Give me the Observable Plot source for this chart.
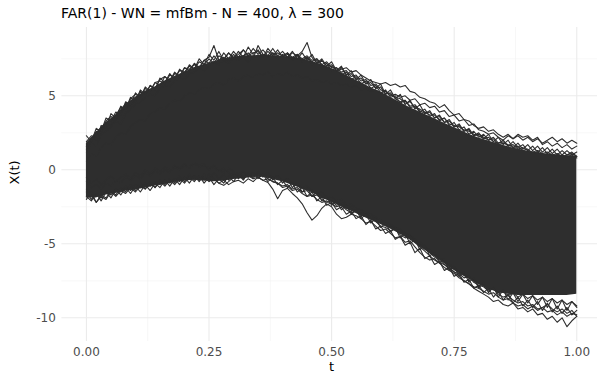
<!DOCTYPE html>
<html>
<head>
<meta charset="utf-8">
<script src="https://cdn.jsdelivr.net/npm/d3@7"></script>
<script src="https://cdn.jsdelivr.net/npm/@observablehq/plot@0.6"></script>
<style>
  body { margin: 0; background: #fff; width: 597px; height: 375px; overflow: hidden; }
  #title { font-family: "DejaVu Sans", sans-serif; font-size: 14px; color: #000; height: 22px; line-height: 22px; padding: 2px 0 0 61px; white-space: nowrap; }
  svg { display: block; }
</style>
</head>
<body>
<div id="title">FAR(1) - WN = mfBm - N = 400, λ = 300</div>
<div id="chart"></div>
<script>
// ---- data ----
const title = "FAR(1) - WN = mfBm - N = 400, λ = 300";
const xTicks = [0, 0.25, 0.5, 0.75, 1];
const xMinor = [0.125, 0.375, 0.625, 0.875];
const yTicks = [-10, -5, 0, 5];
const yMinor = [-7.5, -2.5, 2.5, 7.5];

// dense band (most of the 400 curves), sampled every 0.02
const bandT = d3.range(0, 51).map(i => i / 50);
const bandHigh = [1.8, 2.5, 3.2, 3.7, 4.4, 4.9, 5.3, 5.6, 6.0, 6.3, 6.6, 6.9, 7.1, 7.3, 7.5, 7.6, 7.7, 7.7, 7.75, 7.7, 7.65, 7.6, 7.5, 7.3, 7.1, 6.85, 6.55, 6.2, 5.9, 5.55, 5.25, 4.9, 4.55, 4.2, 3.9, 3.6, 3.3, 3.0, 2.7, 2.4, 2.15, 1.95, 1.75, 1.55, 1.4, 1.25, 1.15, 1.05, 1.0, 0.95, 0.9];
const bandLow = [-1.9, -1.9, -1.7, -1.6, -1.45, -1.35, -1.25, -1.1, -1.0, -0.85, -0.75, -0.7, -0.75, -0.8, -0.75, -0.65, -0.6, -0.5, -0.5, -0.65, -0.8, -1.05, -1.3, -1.55, -1.9, -2.2, -2.5, -2.8, -3.1, -3.4, -3.7, -4.0, -4.35, -4.75, -5.2, -5.65, -6.1, -6.6, -7.0, -7.4, -7.75, -8.05, -8.3, -8.4, -8.5, -8.5, -8.5, -8.5, -8.5, -8.5, -8.4];

// individual edge / outlier curves, sampled every 0.01
const curveT = d3.range(0, 101).map(i => i / 100);
const upA = [1.9, 2.3, 2.2, 2.9, 3.1, 3.0, 3.7, 4.2, 4.0, 4.8, 5.1,
  4.9, 5.5, 5.3, 5.9, 6.0, 5.8, 6.4, 6.2, 6.7, 6.6,
  7.0, 6.8, 7.3, 7.1, 7.5, 7.2, 7.7, 7.5, 7.9, 7.6,
  7.8, 8.1, 7.7, 7.9, 8.0, 7.6, 8.2, 7.8, 7.9, 7.7,
  7.9, 7.6, 7.8, 7.5, 7.7, 7.4, 7.5, 7.1, 7.3, 6.9,
  6.9, 6.6, 6.7, 6.3, 6.4, 6.0, 6.1, 5.7, 5.8, 5.4,
  5.3, 5.1, 4.9, 4.8, 4.5, 4.6, 4.2, 4.1, 3.9, 3.7,
  3.7, 3.4, 3.5, 3.1, 3.0, 2.9, 2.7, 2.6, 2.4, 2.3,
  2.1, 2.2, 1.9, 1.8, 1.9, 1.6, 1.7, 1.4, 1.5, 1.3,
  1.2, 1.3, 1.1, 1.2, 1.0, 1.1, 0.9, 1.0, 1.1, 0.9];
const upB = [1.6, 2.0, 2.6, 2.5, 3.3, 3.6, 3.4, 4.0, 4.5, 4.3, 4.7,
  5.3, 5.1, 5.7, 5.5, 6.1, 6.3, 6.0, 6.5, 6.3, 6.9,
  6.8, 7.1, 6.9, 7.4, 7.6, 8.4, 7.4, 7.6, 7.3, 7.8,
  7.5, 7.7, 7.9, 7.5, 8.4, 7.8, 7.6, 7.9, 7.5, 7.8,
  7.6, 7.9, 7.7, 8.0, 8.6, 7.6, 7.2, 7.4, 7.0, 7.1,
  6.7, 6.9, 6.4, 6.5, 6.1, 6.2, 5.8, 5.9, 5.5, 5.6,
  5.1, 5.2, 4.8, 4.6, 4.7, 4.3, 4.4, 4.0, 3.8, 3.9,
  3.5, 3.6, 3.2, 3.3, 2.9, 3.0, 2.6, 2.7, 2.3, 2.4,
  2.2, 2.0, 2.1, 1.7, 1.8, 1.7, 1.5, 1.6, 1.3, 1.4,
  1.1, 1.2, 1.0, 1.1, 0.9, 1.0, 0.8, 0.9, 1.0, 0.8];
const upC = [2.3, 1.9, 2.8, 2.6, 3.5, 3.3, 3.9, 3.7, 4.6, 4.4, 5.2,
  4.9, 5.6, 5.3, 5.9, 5.7, 6.3, 6.0, 6.6, 6.3, 6.9,
  6.7, 7.2, 6.9, 7.4, 7.2, 7.7, 7.3, 7.9, 7.5, 8.0,
  7.6, 8.1, 7.7, 8.2, 7.8, 8.1, 7.7, 8.2, 7.7, 8.0,
  7.6, 8.0, 7.5, 7.9, 7.4, 7.8, 7.2, 7.5, 7.0, 7.3,
  6.7, 7.0, 6.4, 6.7, 6.1, 6.4, 5.8, 6.1, 5.5, 5.8,
  5.1, 5.4, 4.8, 5.1, 4.4, 4.7, 4.1, 4.4, 3.8, 4.0,
  3.5, 3.7, 3.2, 3.4, 2.9, 3.1, 2.6, 2.8, 2.3, 2.5,
  2.1, 2.4, 1.9, 2.2, 1.7, 2.0, 1.5, 1.8, 1.4, 1.7,
  1.3, 1.6, 1.2, 1.5, 1.1, 1.4, 1.0, 1.3, 1.0, 1.2];
const upD = [1.4, 2.2, 2.0, 3.0, 2.8, 3.8, 3.5, 4.3, 4.1, 4.9, 4.6,
  5.4, 5.1, 5.7, 5.4, 6.2, 5.9, 6.5, 6.1, 6.8, 6.5,
  7.1, 6.8, 7.5, 7.1, 7.8, 7.4, 8.0, 7.4, 7.9, 7.5,
  8.0, 7.6, 8.3, 7.8, 8.1, 7.6, 8.0, 7.7, 8.1, 7.6,
  7.9, 7.4, 7.8, 7.3, 7.6, 7.1, 7.4, 6.9, 7.2, 6.7,
  6.9, 6.4, 6.6, 6.1, 6.3, 5.8, 6.0, 5.5, 5.7, 5.2,
  5.4, 4.9, 5.0, 4.5, 4.7, 4.2, 4.3, 3.9, 4.1, 3.6,
  3.8, 3.3, 3.5, 3.0, 3.2, 2.7, 2.9, 2.4, 2.6, 2.2,
  2.4, 2.0, 2.2, 1.8, 2.0, 1.6, 1.9, 1.5, 1.7, 1.3,
  1.6, 1.2, 1.5, 1.1, 1.4, 1.0, 1.3, 1.0, 1.2, 0.9];
const upOut1 = [1.2, 1.8, 1.6, 2.4, 2.6, 2.9, 3.3, 3.1, 3.8, 4.1, 4.4,
  4.6, 4.9, 5.1, 5.0, 5.5, 5.7, 5.6, 6.0, 6.2, 6.1,
  6.5, 6.6, 6.9, 6.7, 7.0, 7.3, 7.1, 7.4, 7.2, 7.5,
  7.4, 7.6, 7.3, 7.7, 7.5, 7.8, 7.6, 7.9, 7.7, 7.6,
  7.8, 7.5, 7.7, 7.4, 7.6, 7.3, 7.5, 7.1, 6.9, 7.0,
  6.7, 6.8, 6.9, 6.6, 6.7, 6.4, 6.2, 6.0, 5.9, 5.8,
  5.9, 5.7, 5.8, 5.6, 5.7, 5.3, 5.2, 4.9, 4.8, 4.6,
  4.5, 4.2, 4.4, 4.0, 3.7, 3.8, 3.4, 3.3, 3.0, 2.8,
  2.9, 2.6, 2.7, 2.4, 2.2, 2.4, 2.1, 2.3, 2.0, 2.2,
  1.9, 2.1, 1.8, 2.0, 2.2, 1.9, 2.1, 1.8, 2.0, 1.8];
const upOut2 = [0.6, 1.1, 0.9, 1.5, 1.8, 1.7, 2.2, 2.5, 2.4, 2.9, 3.2,
  3.4, 3.3, 3.8, 3.9, 4.2, 4.1, 4.5, 4.7, 4.6, 5.0,
  5.2, 5.1, 5.4, 5.6, 5.5, 5.8, 5.9, 5.7, 6.1, 6.2,
  6.0, 6.3, 6.4, 6.2, 6.5, 6.4, 6.6, 6.3, 6.5, 6.4,
  6.6, 6.3, 6.4, 6.2, 6.3, 6.0, 6.1, 5.9, 6.0, 5.8,
  5.9, 5.7, 5.8, 5.6, 5.7, 5.4, 5.5, 5.3, 5.4, 5.2,
  5.3, 5.0, 5.1, 4.9, 5.0, 4.7, 4.8, 4.4, 4.5, 4.2,
  4.3, 3.9, 4.0, 3.6, 3.7, 3.3, 3.4, 3.0, 3.1, 2.7,
  2.6, 2.4, 2.5, 2.2, 2.0, 2.3, 2.1, 2.4, 2.2, 2.3,
  2.0, 2.2, 1.7, 1.9, 1.6, 1.8, 1.5, 1.7, 1.4, 1.6];
const loA = [-1.8, -2.1, -1.6, -1.9, -1.4, -1.7, -1.3, -1.5, -1.1, -1.4, -1.0,
  -1.2, -0.9, -1.1, -0.8, -1.0, -0.7, -0.9, -0.6, -0.8, -0.5,
  -0.6, -0.4, -0.7, -0.5, -0.8, -0.6, -0.9, -0.7, -1.0, -0.8,
  -0.7, -0.9, -0.6, -0.8, -0.5, -0.7, -0.6, -0.8, -0.9, -1.1,
  -1.0, -1.3, -1.2, -1.5, -1.4, -1.8, -1.7, -2.0, -2.2, -2.1,
  -2.4, -2.3, -2.6, -2.5, -2.8, -2.9, -3.0, -3.2, -3.3, -3.5,
  -3.6, -3.8, -3.9, -4.1, -4.3, -4.4, -4.7, -4.9, -5.2, -5.4,
  -5.7, -5.9, -6.2, -6.4, -6.6, -6.9, -7.1, -7.2, -7.5, -7.7,
  -7.8, -8.1, -8.0, -8.3, -8.2, -8.5, -8.3, -8.6, -8.4, -8.7,
  -8.5, -8.8, -8.6, -8.9, -8.7, -9.0, -8.8, -9.1, -8.9, -9.2];
const loB = [-1.3, -1.7, -2.2, -1.8, -2.0, -1.5, -1.8, -1.4, -1.6, -1.2, -1.5,
  -1.1, -1.3, -0.9, -1.2, -0.8, -1.1, -0.7, -1.0, -0.6, -0.9,
  -0.5, -0.8, -0.4, -0.7, -0.3, -0.6, -0.9, -1.05, -0.8, -0.5,
  -0.4, -0.6, -0.3, -0.5, -0.2, -0.4, -0.3, -0.5, -0.4, -0.7,
  -0.6, -0.9, -1.0, -1.2, -1.1, -1.4, -1.6, -1.5, -1.9, -1.8,
  -2.1, -2.0, -2.4, -2.3, -2.6, -2.7, -2.9, -3.0, -3.2, -3.4,
  -3.5, -3.7, -3.9, -4.0, -4.3, -4.5, -4.8, -5.1, -5.3, -5.6,
  -5.9, -6.1, -6.4, -6.7, -6.9, -7.2, -7.5, -7.7, -8.0, -8.2,
  -8.4, -8.6, -8.9, -8.8, -9.1, -9.2, -9.0, -9.4, -9.3, -9.6,
  -9.4, -9.8, -9.7, -10.1, -9.9, -10.3, -10.0, -10.6, -10.2, -9.9];
const loC = [-2.0, -1.5, -2.2, -1.7, -1.9, -1.4, -1.7, -1.2, -1.5, -1.0, -1.4,
  -0.9, -1.3, -0.8, -1.2, -0.7, -1.0, -0.6, -0.9, -0.4, -0.8,
  -0.3, -0.7, -0.4, -0.9, -0.5, -1.0, -0.6, -0.9, -0.4, -0.8,
  -0.3, -0.7, -0.2, -0.6, -0.1, -0.5, -0.2, -0.7, -0.4, -0.9,
  -0.6, -1.2, -0.9, -1.5, -1.2, -1.8, -1.5, -2.1, -1.8, -2.4,
  -2.1, -2.7, -2.4, -3.0, -2.7, -3.3, -3.0, -3.6, -3.3, -3.9,
  -3.6, -4.2, -3.9, -4.6, -4.3, -5.0, -4.7, -5.4, -5.1, -5.8,
  -5.6, -6.3, -6.0, -6.8, -6.5, -7.2, -6.9, -7.6, -7.3, -8.0,
  -7.6, -8.3, -7.9, -8.6, -8.1, -8.8, -8.3, -8.9, -8.4, -9.0,
  -8.5, -9.1, -8.6, -9.3, -8.7, -9.4, -8.8, -9.5, -8.9, -9.3];
const loD = [-1.5, -2.0, -1.6, -2.1, -1.5, -1.9, -1.3, -1.7, -1.2, -1.6, -1.1,
  -1.5, -1.0, -1.4, -0.9, -1.2, -0.7, -1.1, -0.6, -1.0, -0.5,
  -0.9, -0.4, -0.8, -0.3, -0.7, -0.2, -0.6, -0.3, -0.7, -0.2,
  -0.6, -0.1, -0.5, -0.2, -0.6, -0.3, -0.8, -0.5, -1.0, -0.7,
  -1.2, -0.9, -1.5, -1.2, -1.8, -1.5, -2.1, -1.8, -2.4, -2.2,
  -2.7, -2.5, -3.0, -2.8, -3.3, -3.1, -3.7, -3.4, -4.0, -3.8,
  -4.3, -4.1, -4.7, -4.5, -5.1, -4.9, -5.6, -5.3, -6.0, -5.8,
  -6.4, -6.2, -6.8, -6.6, -7.2, -7.0, -7.6, -7.4, -8.0, -7.8,
  -8.3, -8.0, -8.6, -8.2, -8.8, -8.4, -9.0, -8.6, -9.2, -8.8,
  -9.3, -8.9, -9.5, -9.0, -9.6, -9.2, -9.7, -9.3, -9.8, -9.5];
const loOut1 = [-0.8, -1.2, -1.0, -1.3, -0.9, -1.1, -0.7, -0.9, -0.5, -0.7, -0.4,
  -0.6, -0.2, -0.4, -0.1, -0.3, 0.0, -0.2, 0.2, 0.0, 0.3,
  0.1, 0.4, 0.2, 0.3, 0.0, 0.2, -0.1, 0.1, -0.2, -0.4,
  -0.3, -0.5, -0.4, -0.6, -0.5, -0.7, -0.85, -1.3, -1.95, -1.4,
  -1.25, -1.6, -1.9, -2.3, -2.9, -3.4, -3.1, -2.6, -2.3, -2.5,
  -3.0, -3.3, -3.2, -3.0, -3.1, -3.3, -3.6, -3.5, -3.8, -4.1,
  -4.0, -4.3, -4.6, -4.5, -4.9, -4.8, -5.2, -5.6, -5.9, -6.1,
  -6.0, -6.3, -6.4, -6.6, -6.9, -7.0, -7.3, -7.2, -7.6, -7.8,
  -7.9, -8.2, -8.0, -8.4, -8.6, -8.5, -8.8, -9.0, -8.9, -9.2,
  -9.1, -9.4, -9.3, -9.6, -9.5, -9.8, -9.6, -9.9, -9.7, -9.8];
const loOut2 = [-0.5, -0.9, -0.6, -1.0, -0.7, -0.4, -0.8, -0.5, -0.3, -0.6, -0.2,
  -0.4, 0.0, -0.3, 0.1, -0.1, 0.2, 0.0, 0.3, 0.1, 0.4,
  0.2, 0.5, 0.3, 0.4, 0.1, 0.3, 0.0, -0.2, 0.1, -0.1,
  -0.3, -0.1, -0.4, -0.2, -0.5, -0.3, -0.6, -0.8, -0.9, -1.2,
  -1.1, -1.4, -1.3, -1.6, -1.8, -1.7, -2.0, -2.2, -2.1, -2.3,
  -2.5, -2.4, -2.7, -2.9, -2.8, -3.1, -3.0, -3.3, -3.5, -3.8,
  -3.9, -4.1, -4.0, -4.4, -4.6, -4.5, -4.9, -5.2, -5.5, -5.8,
  -6.1, -6.3, -6.6, -6.8, -7.0, -7.3, -7.5, -7.7, -7.9, -8.0,
  -8.2, -8.4, -8.3, -8.6, -8.8, -8.7, -9.0, -9.2, -9.1, -9.4,
  -9.2, -9.5, -9.3, -9.1, -9.4, -9.6, -9.4, -9.7, -9.5, -9.9];

// ---- tables for the library ----
const band = bandT.map((t, i) => ({t, lo: bandLow[i], hi: bandHigh[i]}));
const curves = {upA, upB, upC, upD, upOut1, upOut2, loA, loB, loC, loD, loOut1, loOut2};
const curveRows = [];
for (const [id, vals] of Object.entries(curves)) {
  vals.forEach((v, i) => curveRows.push({id, t: curveT[i], v}));
}

const ink = "#2e2e2e";
const chart = Plot.plot({
  width: 597,
  height: 351,
  marginTop: 3,
  marginBottom: 34,
  marginLeft: 61.4,
  marginRight: -3.8,
  style: {fontFamily: "DejaVu Sans, sans-serif", background: "#fff"},
  x: {domain: [-0.05, 1.05], range: [61.4, 600.8]},
  y: {domain: [-11.6, 9.615]},
  marks: [
    Plot.ruleY(yMinor, {stroke: "#f2f2f2", strokeWidth: 0.6}),
    Plot.ruleX(xMinor, {stroke: "#f2f2f2", strokeWidth: 0.6}),
    Plot.ruleY(yTicks, {stroke: "#ebebeb", strokeWidth: 1.1}),
    Plot.ruleX(xTicks, {stroke: "#ebebeb", strokeWidth: 1.1}),
    Plot.areaY(band, {x: "t", y1: "lo", y2: "hi", fill: ink}),
    Plot.line(curveRows, {x: "t", y: "v", z: "id", stroke: ink, strokeWidth: 1.1}),
    Plot.axisY({ticks: yTicks, tickSize: 0, tickPadding: 6, tickFormat: d => String(d), fontSize: 12, color: "#4d4d4d", label: null}),
    Plot.axisX({ticks: xTicks, tickSize: 0, tickPadding: 6, tickFormat: d3.format(".2f"), fontSize: 12, color: "#4d4d4d", label: null}),
    Plot.text(["X(t)"], {frameAnchor: "left", dx: -47, rotate: -90, fontSize: 13, fill: "#000"}),
    Plot.text(["t"], {frameAnchor: "bottom", dy: 29, fontSize: 13, fill: "#000"})
  ]
});
document.getElementById("chart").appendChild(chart);
</script>
</body>
</html>
